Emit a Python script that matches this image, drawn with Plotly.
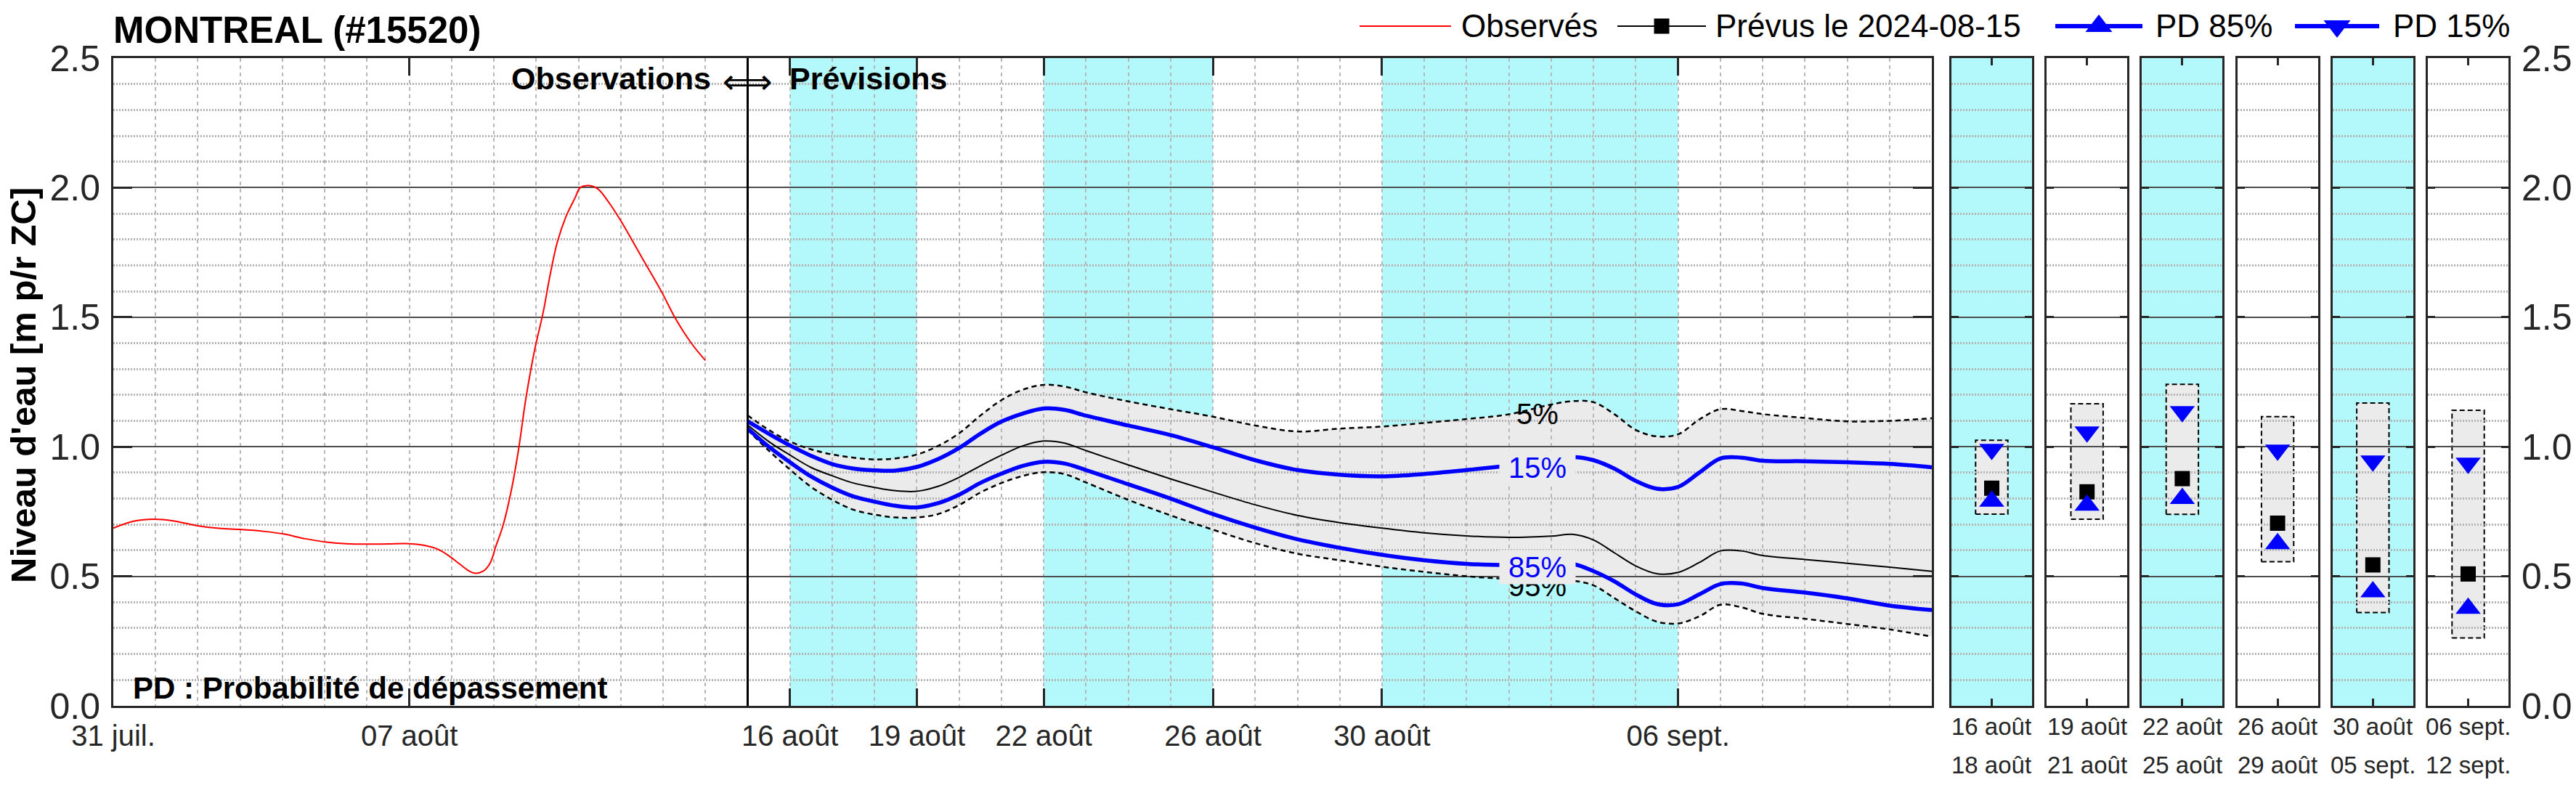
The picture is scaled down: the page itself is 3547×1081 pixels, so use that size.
import plotly.graph_objects as go

W, H = 3547, 1081
FONT = "Liberation Sans, Arial, Helvetica, sans-serif"
INK = "#262626"
CYAN = "#b3f8fa"
BAND = "#ebebeb"
BLUE = "#0000ff"
MAJOR_GRID = "#4d4d4d"
MINOR_GRID = "#b4b4b4"
DASH_GRID = "#b8b8b8"

# observed water level (m above chart datum)
obs_time = [
    "2024-07-31 00:00", "2024-07-31 12:00", "2024-07-31 23:00", "2024-08-01 10:00",
    "2024-08-01 23:00", "2024-08-02 12:00", "2024-08-03 00:00", "2024-08-03 14:00",
    "2024-08-04 00:00", "2024-08-04 13:00", "2024-08-05 00:00", "2024-08-05 12:00",
    "2024-08-06 00:00", "2024-08-06 12:00", "2024-08-07 00:00", "2024-08-07 08:00",
    "2024-08-07 16:00", "2024-08-07 22:00", "2024-08-08 05:00", "2024-08-08 10:00",
    "2024-08-08 13:00", "2024-08-08 18:00", "2024-08-08 22:00", "2024-08-09 01:00",
    "2024-08-09 05:00", "2024-08-09 10:00", "2024-08-09 14:00", "2024-08-09 18:00",
    "2024-08-09 23:00", "2024-08-10 04:00", "2024-08-10 08:00", "2024-08-10 12:00",
    "2024-08-10 17:00", "2024-08-10 22:00", "2024-08-11 01:00", "2024-08-11 06:00",
    "2024-08-11 11:00", "2024-08-11 17:00", "2024-08-12 00:00", "2024-08-12 12:00",
    "2024-08-12 23:00", "2024-08-13 07:00", "2024-08-13 16:00", "2024-08-14 00:00",
]
obs_level = [
    0.686, 0.713, 0.720, 0.714, 0.696, 0.685, 0.681, 0.673, 0.664, 0.645, 0.633,
    0.626, 0.624, 0.625, 0.626, 0.620, 0.605, 0.581, 0.545, 0.520, 0.512, 0.520,
    0.553, 0.614, 0.692, 0.836, 0.990, 1.180, 1.370, 1.520, 1.667, 1.790, 1.890,
    1.960, 2.000, 2.008, 1.995, 1.945, 1.872, 1.730, 1.600, 1.495, 1.400, 1.333,
]

# forecast issued 2024-08-15, exceedance probability envelopes
forecast_issued = "2024-08-15"
fc_time = [
    "2024-08-15 00:00", "2024-08-15 12:00", "2024-08-16 00:00", "2024-08-16 12:00",
    "2024-08-17 00:00", "2024-08-17 12:00", "2024-08-18 00:00", "2024-08-18 12:00",
    "2024-08-19 00:00", "2024-08-19 12:00", "2024-08-20 00:00", "2024-08-20 12:00",
    "2024-08-21 00:00", "2024-08-21 12:00", "2024-08-22 00:00", "2024-08-22 12:00",
    "2024-08-23 00:00", "2024-08-24 00:00", "2024-08-25 00:00", "2024-08-26 00:00",
    "2024-08-27 00:00", "2024-08-28 00:00", "2024-08-29 00:00", "2024-08-30 00:00",
    "2024-08-31 00:00", "2024-09-01 00:00", "2024-09-02 00:00", "2024-09-03 00:00",
    "2024-09-03 12:00", "2024-09-04 00:00", "2024-09-04 12:00", "2024-09-05 00:00",
    "2024-09-05 12:00", "2024-09-06 00:00", "2024-09-06 12:00", "2024-09-07 00:00",
    "2024-09-07 12:00", "2024-09-08 00:00", "2024-09-09 00:00", "2024-09-10 00:00",
    "2024-09-11 00:00", "2024-09-12 00:00",
]
fc_q05 = [
    1.121, 1.065, 1.020, 0.990, 0.970, 0.958, 0.951, 0.955, 0.970, 1.003, 1.052,
    1.120, 1.180, 1.220, 1.239, 1.232, 1.210, 1.175, 1.145, 1.116, 1.082, 1.059,
    1.070, 1.078, 1.092, 1.107, 1.125, 1.163, 1.176, 1.172, 1.125, 1.065, 1.040,
    1.048, 1.105, 1.145, 1.138, 1.126, 1.111, 1.098, 1.100, 1.110,
]
fc_q15 = [
    1.098, 1.050, 1.005, 0.965, 0.933, 0.916, 0.909, 0.908, 0.922, 0.952, 0.995,
    1.050, 1.097, 1.128, 1.148, 1.142, 1.120, 1.082, 1.045, 0.998, 0.948, 0.910,
    0.892, 0.886, 0.895, 0.910, 0.927, 0.945, 0.960, 0.948, 0.915, 0.868, 0.838,
    0.845, 0.900, 0.955, 0.958, 0.946, 0.944, 0.940, 0.934, 0.921,
]
fc_med = [
    1.084, 1.020, 0.968, 0.920, 0.888, 0.860, 0.843, 0.830, 0.828, 0.847, 0.882,
    0.926, 0.967, 1.003, 1.022, 1.014, 0.985, 0.930, 0.876, 0.825, 0.776, 0.735,
    0.707, 0.686, 0.668, 0.656, 0.650, 0.655, 0.662, 0.640, 0.590, 0.540, 0.510,
    0.515, 0.553, 0.598, 0.598, 0.580, 0.565, 0.550, 0.535, 0.519,
]
fc_q85 = [
    1.070, 1.000, 0.940, 0.885, 0.842, 0.808, 0.788, 0.772, 0.766, 0.782, 0.815,
    0.860, 0.896, 0.926, 0.942, 0.935, 0.910, 0.855, 0.800, 0.740, 0.688, 0.643,
    0.610, 0.583, 0.562, 0.548, 0.543, 0.545, 0.548, 0.520, 0.480, 0.430, 0.393,
    0.392, 0.430, 0.470, 0.472, 0.455, 0.437, 0.415, 0.387, 0.370,
]
fc_q95 = [
    1.065, 0.985, 0.912, 0.845, 0.795, 0.757, 0.738, 0.727, 0.727, 0.740, 0.775,
    0.823, 0.860, 0.887, 0.902, 0.894, 0.862, 0.795, 0.735, 0.680, 0.628, 0.587,
    0.562, 0.537, 0.517, 0.500, 0.490, 0.485, 0.483, 0.465, 0.415, 0.365, 0.325,
    0.318, 0.345, 0.390, 0.380, 0.355, 0.336, 0.316, 0.295, 0.267,
]

x_start, x_end = "2024-07-31", "2024-09-12"
x_tickvals = ["2024-07-31", "2024-08-07", "2024-08-16", "2024-08-19",
              "2024-08-22", "2024-08-26", "2024-08-30", "2024-09-06"]
x_ticktext = ["31 juil.", "07 août", "16 août", "19 août",
              "22 août", "26 août", "30 août", "06 sept."]

# forecast periods summarised in the right-hand panels
period_start = ["2024-08-16", "2024-08-19", "2024-08-22", "2024-08-26", "2024-08-30", "2024-09-06"]
period_stop = ["2024-08-19", "2024-08-22", "2024-08-26", "2024-08-30", "2024-09-06", "2024-09-12"]
period_first = ["16 août", "19 août", "22 août", "26 août", "30 août", "06 sept."]
period_last = ["18 août", "21 août", "25 août", "29 août", "05 sept.", "12 sept."]
per_q05 = [1.025, 1.166, 1.241, 1.116, 1.169, 1.141]
per_q15 = [0.990, 1.057, 1.136, 0.987, 0.945, 0.937]
per_med = [0.840, 0.826, 0.877, 0.705, 0.544, 0.509]
per_q85 = [0.790, 0.774, 0.800, 0.626, 0.440, 0.376]
per_q95 = [0.740, 0.720, 0.739, 0.556, 0.360, 0.262]


def px_x(px):
    return px / W


def px_y(py):
    return 1 - py / H


MAIN_X = [px_x(156), px_x(2660)]
PLOT_Y = [px_y(972), px_y(80)]
PANEL_LEFT, PANEL_STEP, PANEL_WIDTH = 2687, 131.2, 111
BOX_HALF = 0.2
n_panels = len(period_first)

# axis numbering: 1 = main background, 2..7 panel backgrounds,
# 8 = main (grid + lines), 9..14 panels (grid + markers), 15 = legend keys
TOP_MAIN = 2 + n_panels
TOP_PANEL = TOP_MAIN + 1
LEGEND = TOP_PANEL + n_panels


def akey(letter, n):
    return f"{letter}axis" if n == 1 else f"{letter}axis{n}"


def aref(letter, n):
    return letter if n == 1 else f"{letter}{n}"


def panel_domain(k):
    left = PANEL_LEFT + k * PANEL_STEP
    return [px_x(left), px_x(left + PANEL_WIDTH)]


def hidden_axis(domain, anchor, rng, **kw):
    return dict(domain=domain, anchor=anchor, range=rng, visible=False,
                automargin=False, fixedrange=True, **kw)


def y_grid(anchor, ticklen, **kw):
    d = dict(
        domain=PLOT_Y, anchor=anchor, range=[0, 2.5], tick0=0, dtick=0.5, tickformat=".1f",
        showgrid=True, gridcolor=MAJOR_GRID, gridwidth=2,
        minor=dict(tick0=0, dtick=0.1, showgrid=True, gridcolor=MINOR_GRID,
                   gridwidth=3, griddash="2px,2px"),
        zeroline=False, showline=True, linecolor=INK, linewidth=3, mirror="ticks",
        ticks="inside", ticklen=ticklen, tickwidth=3, tickcolor=INK,
        tickfont=dict(size=50, color=INK), ticklabelstandoff=5,
        automargin=False, fixedrange=True,
    )
    d.update(kw)
    return d


fig = go.Figure()
layout = dict(
    width=W, height=H, margin=dict(l=0, r=0, t=0, b=0, autoexpand=False),
    paper_bgcolor="white", plot_bgcolor="rgba(0,0,0,0)",
    showlegend=False, font=dict(family=FONT, color=INK),
)

# background subplots (shading only, drawn under the grid)
layout[akey("x", 1)] = hidden_axis(MAIN_X, "y", [x_start, x_end], type="date")
layout[akey("y", 1)] = hidden_axis(PLOT_Y, "x", [0, 2.5])
for k in range(n_panels):
    n = 2 + k
    layout[akey("x", n)] = hidden_axis(panel_domain(k), aref("y", n), [-0.5, 0.5])
    layout[akey("y", n)] = hidden_axis(PLOT_Y, aref("x", n), [0, 2.5])

# foreground subplots
layout[akey("x", TOP_MAIN)] = dict(
    domain=MAIN_X, anchor=aref("y", TOP_MAIN), type="date", range=[x_start, x_end],
    tickmode="array", tickvals=x_tickvals, ticktext=x_ticktext,
    ticks="inside", ticklen=24, tickwidth=3, tickcolor=INK,
    showgrid=True, gridcolor=DASH_GRID, gridwidth=2, griddash="5px,5px",
    minor=dict(tick0=x_start, dtick=86400000, showgrid=True, gridcolor=DASH_GRID,
               gridwidth=2, griddash="5px,5px"),
    showline=True, linecolor=INK, linewidth=3, mirror="ticks", zeroline=False,
    tickfont=dict(size=40, color=INK), ticklabelstandoff=4,
    automargin=False, fixedrange=True,
)
layout[akey("y", TOP_MAIN)] = y_grid(aref("x", TOP_MAIN), 26)
for k in range(n_panels):
    n = TOP_PANEL + k
    layout[akey("x", n)] = dict(
        domain=panel_domain(k), anchor=aref("y", n), range=[-0.5, 0.5], tickvals=[0],
        ticks="inside", ticklen=10, tickwidth=3, tickcolor=INK, showticklabels=False,
        showgrid=False, zeroline=False, showline=True, linecolor=INK, linewidth=3,
        mirror="ticks", automargin=False, fixedrange=True,
    )
    last = k == n_panels - 1
    layout[akey("y", n)] = y_grid(aref("x", n), 10, showticklabels=last,
                                  side="right" if last else "left")

layout[akey("x", LEGEND)] = hidden_axis([0, 1], aref("y", LEGEND), [0, W])
layout[akey("y", LEGEND)] = hidden_axis([0, 1], aref("x", LEGEND), [H, 0])

# --- background content ---
fig.add_trace(go.Scatter(x=fc_time, y=fc_q95, mode="lines", line=dict(width=0, shape="spline"),
                         xaxis="x", yaxis="y", hoverinfo="skip"))
fig.add_trace(go.Scatter(x=fc_time, y=fc_q05, mode="lines", line=dict(width=0, shape="spline"),
                         fill="tonexty", fillcolor=BAND, xaxis="x", yaxis="y", hoverinfo="skip"))

for k in range(n_panels):
    n = 2 + k
    fig.add_trace(go.Scatter(
        x=[-BOX_HALF, BOX_HALF, BOX_HALF, -BOX_HALF, -BOX_HALF],
        y=[per_q95[k], per_q95[k], per_q05[k], per_q05[k], per_q95[k]],
        mode="lines", fill="toself", fillcolor=BAND,
        line=dict(color="black", width=2, dash="7px,4px"),
        xaxis=aref("x", n), yaxis=aref("y", n), hoverinfo="skip",
    ))

shapes = []
for k in range(0, n_panels, 2):
    shapes.append(dict(type="rect", xref="x", yref="y domain", x0=period_start[k],
                       x1=period_stop[k], y0=0, y1=1, fillcolor=CYAN, line_width=0, layer="below"))
    shapes.append(dict(type="rect", xref=f"x{2 + k} domain", yref=f"y{2 + k} domain",
                       x0=0, x1=1, y0=0, y1=1, fillcolor=CYAN, line_width=0, layer="below"))
shapes.append(dict(type="line", xref=aref("x", TOP_MAIN), yref=f"y{TOP_MAIN} domain",
                   x0=forecast_issued, x1=forecast_issued, y0=0, y1=1,
                   line=dict(color="black", width=3), layer="above"))

# --- foreground content ---
xm, ym = aref("x", TOP_MAIN), aref("y", TOP_MAIN)
fig.add_trace(go.Scatter(x=obs_time, y=obs_level, mode="lines", name="Observés",
                         line=dict(color="#ff0000", width=2, shape="spline"), xaxis=xm, yaxis=ym))
for series in (fc_q05, fc_q95):
    fig.add_trace(go.Scatter(x=fc_time, y=series, mode="lines",
                             line=dict(color="black", width=2.5, dash="7px,5px", shape="spline"),
                             xaxis=xm, yaxis=ym))
fig.add_trace(go.Scatter(x=fc_time, y=fc_med, mode="lines", name="Prévus le 2024-08-15",
                         line=dict(color="black", width=2, shape="spline"), xaxis=xm, yaxis=ym))
for series, name in ((fc_q15, "PD 15%"), (fc_q85, "PD 85%")):
    fig.add_trace(go.Scatter(x=fc_time, y=series, mode="lines", name=name,
                             line=dict(color=BLUE, width=5.5, shape="spline"), xaxis=xm, yaxis=ym))

for k in range(n_panels):
    n = TOP_PANEL + k
    for val, sym, col, size in ((per_q15[k], "triangle-down", BLUE, 30),
                                (per_med[k], "square", "black", 21),
                                (per_q85[k], "triangle-up", BLUE, 30)):
        fig.add_trace(go.Scatter(x=[0], y=[val], mode="markers",
                                 marker=dict(symbol=sym, color=col, size=size, line_width=0),
                                 xaxis=aref("x", n), yaxis=aref("y", n), cliponaxis=False))

# legend keys, drawn on a pixel-scaled overlay
xl, yl = aref("x", LEGEND), aref("y", LEGEND)
legend_keys = [
    (1872, 1998, "#ff0000", 2, None),
    (2227, 2349, "black", 2, "square"),
    (2830, 2950, BLUE, 6, "triangle-up"),
    (3160, 3276, BLUE, 6, "triangle-down"),
]
LEG_Y = 36
for x0, x1, col, lw, sym in legend_keys:
    fig.add_trace(go.Scatter(x=[x0, x1], y=[LEG_Y, LEG_Y], mode="lines",
                             line=dict(color=col, width=lw), xaxis=xl, yaxis=yl, hoverinfo="skip"))
    if sym:
        fig.add_trace(go.Scatter(x=[(x0 + x1) / 2], y=[LEG_Y], mode="markers",
                                 marker=dict(symbol=sym, color=col, size=21 if sym == "square" else 32),
                                 xaxis=xl, yaxis=yl, cliponaxis=False, hoverinfo="skip"))

annotations = []


def note(text, x, y, size, bold=False, color="black", xanchor="left", **kw):
    annotations.append(dict(
        text=f"<b>{text}</b>" if bold else text, x=x, y=y, showarrow=False,
        xanchor=xanchor, yanchor="middle", font=dict(size=size, color=color, family=kw.pop("family", FONT)),
        **({"xref": "paper", "yref": "paper"} | kw),
    ))


note("MONTREAL (#15520)", px_x(154), px_y(42), 51, bold=True)
note("Niveau d'eau [m p/r ZC]", px_x(32), px_y(531), 49, bold=True, xanchor="center", textangle=-90)
note("PD : Probabilité de dépassement", px_x(181), px_y(947), 42, bold=True)

note("Observés", px_x(2010), px_y(LEG_Y), 44)
note("Prévus le 2024-08-15", px_x(2360), px_y(LEG_Y), 44)
note("PD 85%", px_x(2966), px_y(LEG_Y), 44)
note("PD 15%", px_x(3293), px_y(LEG_Y), 44)

note("Observations", forecast_issued, px_y(108), 43, bold=True, xanchor="right",
     xref=xm, xshift=-48)
note("\u27fa", forecast_issued, px_y(112), 48, xanchor="center", xref=xm,
     family="DejaVu Sans")
note("Prévisions", forecast_issued, px_y(108), 43, bold=True, xanchor="left",
     xref=xm, xshift=56)

label_x = "2024-09-02 16:00"
for text, val, col, bg in (("95%", 0.462, "black", None), ("85%", 0.536, BLUE, BAND),
                           ("5%", 1.126, "black", None), ("15%", 0.920, BLUE, BAND)):
    a = dict(text=f"\u00a0{text}\u00a0" if bg else text, x=label_x, y=val, xref=xm, yref=ym,
             showarrow=False, xanchor="center", yanchor="middle",
             font=dict(size=40, color=col, family=FONT), borderpad=1)
    if bg:
        a["bgcolor"] = bg
    annotations.append(a)

for k in range(n_panels):
    d = panel_domain(k)
    cx = (d[0] + d[1]) / 2
    note(period_first[k], cx, px_y(1000), 33, color=INK, xanchor="center")
    note(period_last[k], cx, px_y(1053), 33, color=INK, xanchor="center")

layout["shapes"] = shapes
layout["annotations"] = annotations
fig.update_layout(**layout)

fig.write_html(
    "out.html",
    config={"displayModeBar": False},
    post_script="document.body.style.margin='0';document.body.style.overflow='hidden';",
)
